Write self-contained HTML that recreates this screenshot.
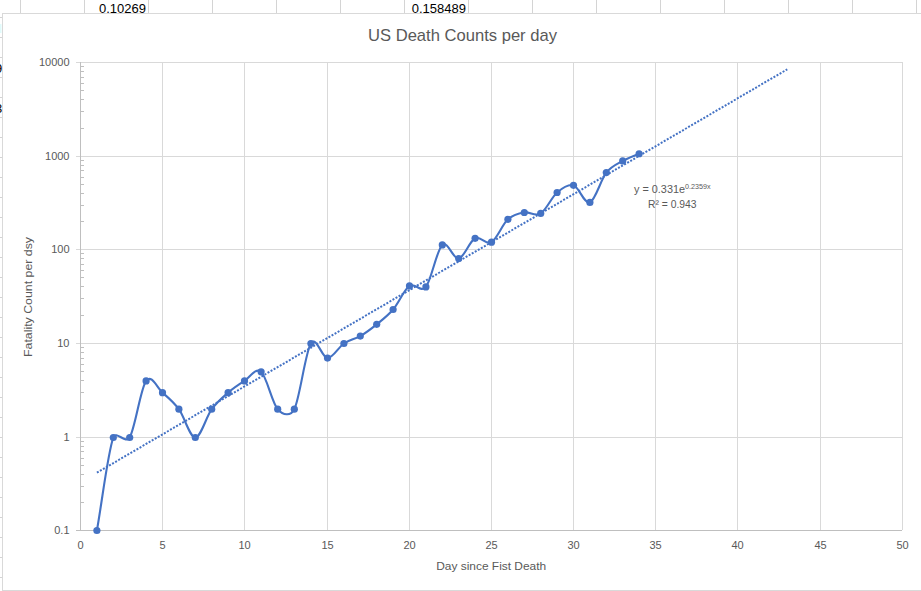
<!DOCTYPE html>
<html><head><meta charset="utf-8"><style>
html,body{margin:0;padding:0;background:#fff;overflow:hidden}
svg{display:block}
text{font-family:"Liberation Sans",Arial,sans-serif}
.cell{font-size:13px;fill:#000}
.ax{font-size:11px;fill:#595959}
.title{font-size:17px;fill:#595959}
.atitle{font-size:11px;fill:#595959}
.eq{font-size:11px;fill:#595959}
.sup{font-size:7.2px}
</style></head><body>
<svg width="921" height="591" viewBox="0 0 921 591">
<g stroke="#d4d4d4" stroke-width="1"><line x1="20.5" y1="0" x2="20.5" y2="591"/><line x1="84.5" y1="0" x2="84.5" y2="591"/><line x1="148.5" y1="0" x2="148.5" y2="591"/><line x1="212.5" y1="0" x2="212.5" y2="591"/><line x1="276.5" y1="0" x2="276.5" y2="591"/><line x1="340.5" y1="0" x2="340.5" y2="591"/><line x1="404.5" y1="0" x2="404.5" y2="591"/><line x1="468.5" y1="0" x2="468.5" y2="591"/><line x1="532.5" y1="0" x2="532.5" y2="591"/><line x1="596.5" y1="0" x2="596.5" y2="591"/><line x1="660.5" y1="0" x2="660.5" y2="591"/><line x1="724.5" y1="0" x2="724.5" y2="591"/><line x1="788.5" y1="0" x2="788.5" y2="591"/><line x1="852.5" y1="0" x2="852.5" y2="591"/><line x1="916.5" y1="0" x2="916.5" y2="591"/><line x1="0" y1="-2.5" x2="921" y2="-2.5"/><line x1="0" y1="17.5" x2="921" y2="17.5"/><line x1="0" y1="37.5" x2="921" y2="37.5"/><line x1="0" y1="57.5" x2="921" y2="57.5"/><line x1="0" y1="77.5" x2="921" y2="77.5"/><line x1="0" y1="97.5" x2="921" y2="97.5"/><line x1="0" y1="117.5" x2="921" y2="117.5"/><line x1="0" y1="137.5" x2="921" y2="137.5"/><line x1="0" y1="157.5" x2="921" y2="157.5"/><line x1="0" y1="177.5" x2="921" y2="177.5"/><line x1="0" y1="197.5" x2="921" y2="197.5"/><line x1="0" y1="217.5" x2="921" y2="217.5"/><line x1="0" y1="237.5" x2="921" y2="237.5"/><line x1="0" y1="257.5" x2="921" y2="257.5"/><line x1="0" y1="277.5" x2="921" y2="277.5"/><line x1="0" y1="297.5" x2="921" y2="297.5"/><line x1="0" y1="317.5" x2="921" y2="317.5"/><line x1="0" y1="337.5" x2="921" y2="337.5"/><line x1="0" y1="357.5" x2="921" y2="357.5"/><line x1="0" y1="377.5" x2="921" y2="377.5"/><line x1="0" y1="397.5" x2="921" y2="397.5"/><line x1="0" y1="417.5" x2="921" y2="417.5"/><line x1="0" y1="437.5" x2="921" y2="437.5"/><line x1="0" y1="457.5" x2="921" y2="457.5"/><line x1="0" y1="477.5" x2="921" y2="477.5"/><line x1="0" y1="497.5" x2="921" y2="497.5"/><line x1="0" y1="517.5" x2="921" y2="517.5"/><line x1="0" y1="537.5" x2="921" y2="537.5"/><line x1="0" y1="557.5" x2="921" y2="557.5"/><line x1="0" y1="577.5" x2="921" y2="577.5"/><line x1="0" y1="597.5" x2="921" y2="597.5"/></g>
<text x="146" y="12.5" text-anchor="end" class="cell">0.10269</text>
<text x="466" y="12.5" text-anchor="end" class="cell">0.158489</text>
<rect x="0" y="24" width="1.5" height="9" fill="#e0fbfb"/>
<text x="-5" y="73" class="cell">9</text>
<text x="-5" y="113" class="cell">3</text>
<rect x="2.5" y="13.5" width="930" height="577" fill="#fff" stroke="#d9d9d9" stroke-width="1"/>
<g stroke="#d9d9d9" stroke-width="1"><line x1="76" y1="62.5" x2="903" y2="62.5"/><line x1="76" y1="156.5" x2="903" y2="156.5"/><line x1="76" y1="249.5" x2="903" y2="249.5"/><line x1="76" y1="343.5" x2="903" y2="343.5"/><line x1="76" y1="437.5" x2="903" y2="437.5"/><line x1="162.5" y1="62" x2="162.5" y2="530"/><line x1="244.5" y1="62" x2="244.5" y2="530"/><line x1="327.5" y1="62" x2="327.5" y2="530"/><line x1="409.5" y1="62" x2="409.5" y2="530"/><line x1="491.5" y1="62" x2="491.5" y2="530"/><line x1="573.5" y1="62" x2="573.5" y2="530"/><line x1="655.5" y1="62" x2="655.5" y2="530"/><line x1="737.5" y1="62" x2="737.5" y2="530"/><line x1="820.5" y1="62" x2="820.5" y2="530"/><line x1="902.5" y1="62" x2="902.5" y2="530"/></g>
<g stroke="#bfbfbf" stroke-width="1"><line x1="80.5" y1="62" x2="80.5" y2="531"/><line x1="76" y1="530.5" x2="902" y2="530.5"/><line x1="80" y1="502.5" x2="84" y2="502.5"/><line x1="80" y1="486.5" x2="84" y2="486.5"/><line x1="80" y1="474.5" x2="84" y2="474.5"/><line x1="80" y1="465.5" x2="84" y2="465.5"/><line x1="80" y1="458.5" x2="84" y2="458.5"/><line x1="80" y1="451.5" x2="84" y2="451.5"/><line x1="80" y1="446.5" x2="84" y2="446.5"/><line x1="80" y1="441.5" x2="84" y2="441.5"/><line x1="80" y1="409.5" x2="84" y2="409.5"/><line x1="80" y1="392.5" x2="84" y2="392.5"/><line x1="80" y1="380.5" x2="84" y2="380.5"/><line x1="80" y1="371.5" x2="84" y2="371.5"/><line x1="80" y1="364.5" x2="84" y2="364.5"/><line x1="80" y1="358.5" x2="84" y2="358.5"/><line x1="80" y1="352.5" x2="84" y2="352.5"/><line x1="80" y1="347.5" x2="84" y2="347.5"/><line x1="80" y1="315.5" x2="84" y2="315.5"/><line x1="80" y1="298.5" x2="84" y2="298.5"/><line x1="80" y1="286.5" x2="84" y2="286.5"/><line x1="80" y1="277.5" x2="84" y2="277.5"/><line x1="80" y1="270.5" x2="84" y2="270.5"/><line x1="80" y1="264.5" x2="84" y2="264.5"/><line x1="80" y1="258.5" x2="84" y2="258.5"/><line x1="80" y1="253.5" x2="84" y2="253.5"/><line x1="80" y1="221.5" x2="84" y2="221.5"/><line x1="80" y1="205.5" x2="84" y2="205.5"/><line x1="80" y1="193.5" x2="84" y2="193.5"/><line x1="80" y1="184.5" x2="84" y2="184.5"/><line x1="80" y1="177.5" x2="84" y2="177.5"/><line x1="80" y1="170.5" x2="84" y2="170.5"/><line x1="80" y1="165.5" x2="84" y2="165.5"/><line x1="80" y1="160.5" x2="84" y2="160.5"/><line x1="80" y1="128.5" x2="84" y2="128.5"/><line x1="80" y1="111.5" x2="84" y2="111.5"/><line x1="80" y1="99.5" x2="84" y2="99.5"/><line x1="80" y1="90.5" x2="84" y2="90.5"/><line x1="80" y1="83.5" x2="84" y2="83.5"/><line x1="80" y1="77.5" x2="84" y2="77.5"/><line x1="80" y1="71.5" x2="84" y2="71.5"/><line x1="80" y1="66.5" x2="84" y2="66.5"/></g>
<text x="69.5" y="65.5" text-anchor="end" class="ax">10000</text>
<text x="69.5" y="159.5" text-anchor="end" class="ax">1000</text>
<text x="69.5" y="252.5" text-anchor="end" class="ax">100</text>
<text x="69.5" y="346.5" text-anchor="end" class="ax">10</text>
<text x="69.5" y="440.5" text-anchor="end" class="ax">1</text>
<text x="69.5" y="533.5" text-anchor="end" class="ax">0.1</text>
<text x="80.5" y="549" text-anchor="middle" class="ax">0</text>
<text x="162.5" y="549" text-anchor="middle" class="ax">5</text>
<text x="244.5" y="549" text-anchor="middle" class="ax">10</text>
<text x="327.5" y="549" text-anchor="middle" class="ax">15</text>
<text x="409.5" y="549" text-anchor="middle" class="ax">20</text>
<text x="491.5" y="549" text-anchor="middle" class="ax">25</text>
<text x="573.5" y="549" text-anchor="middle" class="ax">30</text>
<text x="655.5" y="549" text-anchor="middle" class="ax">35</text>
<text x="737.5" y="549" text-anchor="middle" class="ax">40</text>
<text x="820.5" y="549" text-anchor="middle" class="ax">45</text>
<text x="902.5" y="549" text-anchor="middle" class="ax">50</text>
<text x="462.5" y="41" text-anchor="middle" textLength="189" lengthAdjust="spacingAndGlyphs" class="title">US Death Counts per day</text>
<text x="491.2" y="569.5" text-anchor="middle" textLength="110" lengthAdjust="spacingAndGlyphs" class="atitle">Day since Fist Death</text>
<text transform="translate(32,297) rotate(-90)" text-anchor="middle" textLength="120" lengthAdjust="spacingAndGlyphs" class="atitle">Fatality Count per dsy</text>
<line x1="96.90" y1="472.71" x2="787.30" y2="69.30" stroke="#4472c4" stroke-width="2.0" stroke-dasharray="2.0 1.53" stroke-linecap="butt"/>
<path d="M96.90,530.50 C102.37,499.50 107.83,453.00 113.30,437.50 C116.03,429.77 125.59,444.59 129.70,437.50 C135.17,428.07 140.63,388.38 146.10,380.91 C151.57,373.43 157.03,387.93 162.50,392.65 C167.97,397.37 173.43,401.73 178.90,409.20 C184.37,416.68 189.83,437.50 195.30,437.50 C200.77,437.50 206.23,416.68 211.70,409.20 C217.17,401.73 222.63,397.37 228.10,392.65 C233.57,387.93 239.00,384.38 244.50,380.91 C250.00,377.43 255.57,367.08 261.10,371.80 C266.63,376.51 272.17,402.97 277.70,409.20 C283.21,415.41 290.56,416.61 294.30,409.20 C299.83,398.25 305.37,352.02 310.90,343.50 C316.43,334.98 322.00,358.06 327.50,358.06 C333.00,358.06 338.43,347.17 343.90,343.50 C349.37,339.83 354.83,339.25 360.30,336.06 C365.77,332.86 371.23,328.74 376.70,324.31 C382.17,319.89 387.63,315.90 393.10,309.50 C398.57,303.10 404.03,289.66 409.50,285.90 C414.97,282.13 420.77,293.32 425.90,286.91 C431.37,280.08 436.83,249.64 442.30,244.92 C447.77,240.21 453.23,259.72 458.70,258.61 C464.17,257.50 469.63,241.03 475.10,238.29 C480.57,235.54 486.03,245.29 491.50,242.14 C496.97,238.98 502.43,224.28 507.90,219.34 C513.37,214.40 518.83,213.47 524.30,212.49 C529.77,211.51 535.23,216.80 540.70,213.47 C546.17,210.14 551.63,197.20 557.10,192.51 C562.57,187.82 568.03,183.66 573.50,185.31 C578.97,186.96 584.43,204.51 589.90,202.40 C595.37,200.28 600.83,179.53 606.30,172.61 C611.77,165.70 617.23,164.04 622.70,160.89 C628.17,157.74 633.63,156.12 639.10,153.74" fill="none" stroke="#4472c4" stroke-width="2.1" stroke-linejoin="round" stroke-linecap="round"/>
<g fill="#4472c4"><circle cx="96.90" cy="530.50" r="3.6"/><circle cx="113.30" cy="437.50" r="3.6"/><circle cx="129.70" cy="437.50" r="3.6"/><circle cx="146.10" cy="380.91" r="3.6"/><circle cx="162.50" cy="392.65" r="3.6"/><circle cx="178.90" cy="409.20" r="3.6"/><circle cx="195.30" cy="437.50" r="3.6"/><circle cx="211.70" cy="409.20" r="3.6"/><circle cx="228.10" cy="392.65" r="3.6"/><circle cx="244.50" cy="380.91" r="3.6"/><circle cx="261.10" cy="371.80" r="3.6"/><circle cx="277.70" cy="409.20" r="3.6"/><circle cx="294.30" cy="409.20" r="3.6"/><circle cx="310.90" cy="343.50" r="3.6"/><circle cx="327.50" cy="358.06" r="3.6"/><circle cx="343.90" cy="343.50" r="3.6"/><circle cx="360.30" cy="336.06" r="3.6"/><circle cx="376.70" cy="324.31" r="3.6"/><circle cx="393.10" cy="309.50" r="3.6"/><circle cx="409.50" cy="285.90" r="3.6"/><circle cx="425.90" cy="286.91" r="3.6"/><circle cx="442.30" cy="244.92" r="3.6"/><circle cx="458.70" cy="258.61" r="3.6"/><circle cx="475.10" cy="238.29" r="3.6"/><circle cx="491.50" cy="242.14" r="3.6"/><circle cx="507.90" cy="219.34" r="3.6"/><circle cx="524.30" cy="212.49" r="3.6"/><circle cx="540.70" cy="213.47" r="3.6"/><circle cx="557.10" cy="192.51" r="3.6"/><circle cx="573.50" cy="185.31" r="3.6"/><circle cx="589.90" cy="202.40" r="3.6"/><circle cx="606.30" cy="172.61" r="3.6"/><circle cx="622.70" cy="160.89" r="3.6"/><circle cx="639.10" cy="153.74" r="3.6"/></g>
<text x="634" y="193.3" class="eq"><tspan textLength="51" lengthAdjust="spacingAndGlyphs">y = 0.331e</tspan><tspan class="sup" dy="-4">0.2359x</tspan></text>
<text x="648" y="208" class="eq" textLength="48.5" lengthAdjust="spacingAndGlyphs">R² = 0.943</text>
</svg>
</body></html>
